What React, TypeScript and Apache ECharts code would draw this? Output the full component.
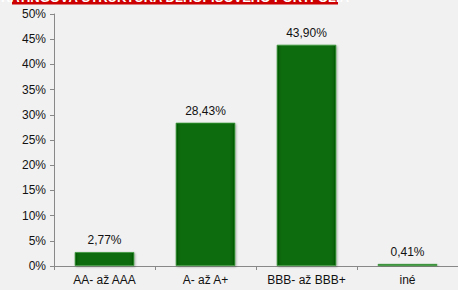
import React, { useEffect, useRef } from "react";
import * as echarts from "echarts";

const categories = ["AA- až AAA", "A- až A+", "BBB- až BBB+", "iné"];
const values = [2.77, 28.43, 43.9, 0.41];
const titleText = "RATINGOVÁ ŠTRUKTÚRA DLHOPISOVÉHO PORTFÓLIA";

export default function App() {
  const ref = useRef<HTMLDivElement>(null);
  useEffect(() => {
    const chart = echarts.init(ref.current!, null, { renderer: "svg" });
    chart.setOption({
      animation: false,
      backgroundColor: "#f1f1f1",
      textStyle: { fontFamily: "Liberation Sans, Arial, sans-serif" },
      grid: { left: 54, top: 14, bottom: 24, right: -6 },
      graphic: [
        {
          type: "rect",
          shape: { x: 12, y: -20, width: 326, height: 24.5 },
          style: { fill: "#cc0000" },
          z: 10,
        },
        {
          type: "text",
          x: 175,
          y: 4,
          z: 11,
          style: {
            text: titleText,
            fill: "#ffffff",
            font: "bold 13px Liberation Sans, Arial, sans-serif",
            textAlign: "center",
            textVerticalAlign: "bottom",
          },
        },
      ],
      xAxis: {
        type: "category",
        data: categories,
        axisLine: { lineStyle: { color: "#888888" } },
        axisTick: { show: true, alignWithLabel: false, length: 4, inside: false, lineStyle: { color: "#888888" } },
        axisLabel: { color: "#111111", fontSize: 12, margin: 8, interval: 0, hideOverlap: false },
      },
      yAxis: {
        type: "value",
        min: 0,
        max: 50,
        interval: 5,
        splitLine: { show: false },
        axisLine: { show: true, lineStyle: { color: "#888888" } },
        axisTick: { show: true, length: 4, lineStyle: { color: "#888888" } },
        axisLabel: { color: "#111111", fontSize: 12, margin: 8, formatter: "{value}%" },
      },
      series: [
        {
          type: "bar",
          data: values,
          barWidth: "59%",
          itemStyle: {
            color: new echarts.graphic.LinearGradient(1, 0, 0, 0, [
              { offset: 0, color: "#045a04" },
              { offset: 0.08, color: "#0a6c0a" },
              { offset: 0.92, color: "#0a6c0a" },
              { offset: 1, color: "#045a04" },
            ]),
            borderColor: "#3f9a3f",
            borderWidth: 0.8,
            shadowColor: "rgba(0,0,0,0.3)",
            shadowBlur: 2,
            shadowOffsetX: 1,
            shadowOffsetY: 1,
          },
          label: {
            show: true,
            position: "top",
            distance: 6,
            color: "#111111",
            fontSize: 12,
            formatter: (p: any) => p.value.toFixed(2).replace(".", ",") + "%",
          },
        },
      ],
    });
    return () => chart.dispose();
  }, []);
  return (
    <div
      ref={ref}
      style={{ position: "absolute", left: 0, top: 0, width: 458, height: 290 }}
    />
  );
}
